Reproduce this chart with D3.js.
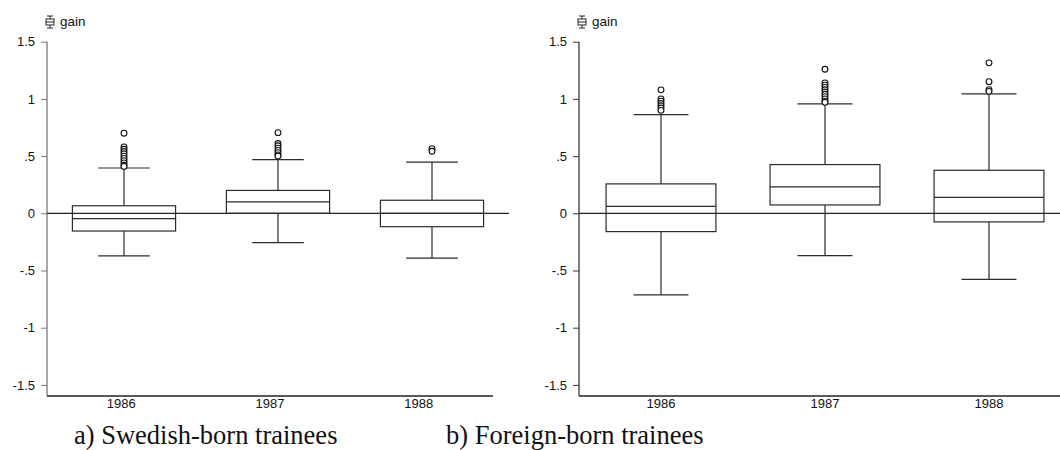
<!DOCTYPE html>
<html>
<head>
<meta charset="utf-8">
<script src="https://cdn.jsdelivr.net/npm/d3@7/dist/d3.min.js"></script>
<style>
  html, body { margin: 0; padding: 0; background: #fff; }
  svg { display: block; }
  .tick text { font-family: "Liberation Sans", Arial, sans-serif; }
</style>
</head>
<body>
<svg id="chart" width="1060" height="450"></svg>
<script>
// ---------- data ----------
const years = ["1986", "1987", "1988"];
const yTickValues = [1.5, 1, 0.5, 0, -0.5, -1, -1.5];
const yTickLabels = ["1.5", "1", ".5", "0", "-.5", "-1", "-1.5"];
const variableName = "gain";
const panelCaptions = ["a) Swedish-born trainees", "b) Foreign-born trainees"];

// Swedish-born trainees
const swedishLowerWhisker = [-0.373, -0.257, -0.391];
const swedishQ1 = [-0.155, 0.0, -0.117];
const swedishMedian = [-0.047, 0.10, 0.0];
const swedishQ3 = [0.066, 0.20, 0.114];
const swedishUpperWhisker = [0.396, 0.469, 0.448];
const swedishOutliers = [
  [0.70, 0.58, 0.56, 0.54, 0.52, 0.50, 0.48, 0.46, 0.44, 0.42, 0.41],
  [0.705, 0.61, 0.59, 0.57, 0.55, 0.53, 0.51, 0.50],
  [0.565, 0.542]
];

// Foreign-born trainees
const foreignLowerWhisker = [-0.713, -0.37, -0.577];
const foreignQ1 = [-0.16, 0.073, -0.075];
const foreignMedian = [0.061, 0.231, 0.14];
const foreignQ3 = [0.257, 0.426, 0.376];
const foreignUpperWhisker = [0.863, 0.956, 1.044];
const foreignOutliers = [
  [1.079, 1.00, 0.98, 0.96, 0.94, 0.92, 0.90],
  [1.259, 1.14, 1.12, 1.10, 1.08, 1.06, 1.04, 1.02, 1.00, 0.98, 0.97],
  [1.315, 1.151, 1.081, 1.066]
];

// ---------- layout ----------
const svg = d3.select("#chart");
const boxColor = "#2b2b2b";
const fontSans = "'Liberation Sans', Arial, sans-serif";

const y = d3.scaleLinear().domain([-1.597, 1.5]).range([396, 41.7]);

const panels = [
  {
    axisX: 47, boxEnd: 509, labelEnd: 493, zeroEnd: 509, bottomEnd: 493,
    lower: swedishLowerWhisker, q1: swedishQ1, med: swedishMedian, q3: swedishQ3,
    upper: swedishUpperWhisker, outliers: swedishOutliers,
    caption: panelCaptions[0], captionX: 74, axisColor: "#7a7a7a"
  },
  {
    axisX: 579, boxEnd: 1071, labelEnd: 1071, zeroEnd: 1060, bottomEnd: 1060,
    lower: foreignLowerWhisker, q1: foreignQ1, med: foreignMedian, q3: foreignQ3,
    upper: foreignUpperWhisker, outliers: foreignOutliers,
    caption: panelCaptions[1], captionX: 446, axisColor: "#3a3a3a"
  }
];

panels.forEach(p => {
  const g = svg.append("g");
  const xBox = d3.scaleBand().domain(years).range([p.axisX, p.boxEnd]);
  const xLab = d3.scaleBand().domain(years).range([p.axisX, p.labelEnd]);
  const boxW = xBox.bandwidth() * 0.67;
  const capW = boxW / 2;

  // y axis
  const yAxis = d3.axisLeft(y)
    .tickValues(yTickValues)
    .tickFormat((d, i) => yTickLabels[i])
    .tickSize(6)
    .tickPadding(6);
  const ya = g.append("g").attr("transform", `translate(${p.axisX},0)`).call(yAxis);
  ya.select(".domain").remove();
  ya.selectAll(".tick line").attr("stroke", p.axisColor);
  ya.selectAll(".tick text").attr("font-size", 13).attr("fill", "#111")
    .attr("font-family", fontSans);
  g.append("line")
    .attr("x1", p.axisX).attr("x2", p.axisX)
    .attr("y1", y(1.5)).attr("y2", y.range()[0])
    .attr("stroke", p.axisColor).attr("stroke-width", 1.3);

  // x axis (bottom)
  g.append("line")
    .attr("x1", p.axisX).attr("x2", p.bottomEnd)
    .attr("y1", y.range()[0]).attr("y2", y.range()[0])
    .attr("stroke", "#222").attr("stroke-width", 1.3);
  g.selectAll("text.year").data(years).join("text")
    .attr("class", "year")
    .attr("x", d => xLab(d) + xLab.bandwidth() / 2)
    .attr("y", 408)
    .attr("text-anchor", "middle")
    .attr("font-family", fontSans)
    .attr("font-size", 13)
    .attr("fill", "#111")
    .text(d => d);

  // zero reference line
  g.append("line")
    .attr("x1", p.axisX).attr("x2", p.zeroEnd)
    .attr("y1", y(0)).attr("y2", y(0))
    .attr("stroke", "#222").attr("stroke-width", 1.2);

  // boxes
  years.forEach((yr, i) => {
    const cx = xBox(yr) + xBox.bandwidth() / 2;
    const bg = g.append("g").attr("stroke", boxColor).attr("stroke-width", 1.2).attr("fill", "none");
    bg.append("line").attr("x1", cx).attr("x2", cx).attr("y1", y(p.upper[i])).attr("y2", y(p.q3[i]));
    bg.append("line").attr("x1", cx).attr("x2", cx).attr("y1", y(p.q1[i])).attr("y2", y(p.lower[i]));
    bg.append("line").attr("x1", cx - capW / 2).attr("x2", cx + capW / 2).attr("y1", y(p.upper[i])).attr("y2", y(p.upper[i]));
    bg.append("line").attr("x1", cx - capW / 2).attr("x2", cx + capW / 2).attr("y1", y(p.lower[i])).attr("y2", y(p.lower[i]));
    bg.append("rect")
      .attr("x", cx - boxW / 2).attr("width", boxW)
      .attr("y", y(p.q3[i])).attr("height", y(p.q1[i]) - y(p.q3[i]));
    bg.append("line").attr("x1", cx - boxW / 2).attr("x2", cx + boxW / 2).attr("y1", y(p.med[i])).attr("y2", y(p.med[i]));
    bg.selectAll("circle").data(p.outliers[i]).join("circle")
      .attr("cx", cx).attr("cy", d => y(d)).attr("r", 2.9)
      .attr("fill", "#fff").attr("stroke", "#111").attr("stroke-width", 1.1);
  });

  // legend: small box glyph + variable name
  const lx = p.axisX - 1, ly = 16;
  const lg = g.append("g").attr("stroke", "#222").attr("stroke-width", 1).attr("fill", "none");
  lg.append("line").attr("x1", lx + 1).attr("x2", lx + 7).attr("y1", ly).attr("y2", ly);
  lg.append("line").attr("x1", lx + 4).attr("x2", lx + 4).attr("y1", ly).attr("y2", ly + 3);
  lg.append("rect").attr("x", lx).attr("y", ly + 3).attr("width", 8).attr("height", 6);
  lg.append("line").attr("x1", lx).attr("x2", lx + 8).attr("y1", ly + 6).attr("y2", ly + 6);
  lg.append("line").attr("x1", lx + 4).attr("x2", lx + 4).attr("y1", ly + 9).attr("y2", ly + 12);
  lg.append("line").attr("x1", lx + 1).attr("x2", lx + 7).attr("y1", ly + 12).attr("y2", ly + 12);
  g.append("text")
    .attr("x", lx + 14).attr("y", 26)
    .attr("font-family", fontSans).attr("font-size", 13.5).attr("fill", "#111")
    .text(variableName);

  // caption
  g.append("text")
    .attr("x", p.captionX).attr("y", 444)
    .attr("font-family", "'Liberation Serif', 'Times New Roman', serif")
    .attr("font-size", 26.5).attr("fill", "#111")
    .text(p.caption);
});
</script>
</body>
</html>
